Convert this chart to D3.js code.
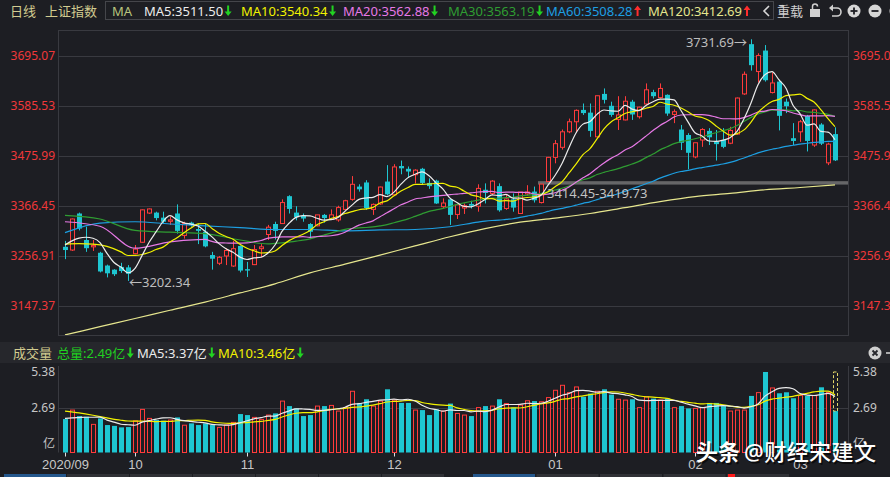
<!DOCTYPE html>
<html>
<head>
<meta charset="utf-8">
<script src="https://cdn.jsdelivr.net/npm/d3@7"></script>
<style>
html, body { margin: 0; padding: 0; background: #1d1e23; }
svg { display: block; font-family: "Noto Sans", "Noto Sans CJK SC", sans-serif; }
</style>
</head>
<body>
<svg id="chart" width="890" height="477"></svg>
<script>
// daily candles, 2020-09-17 .. 2021-03-08 (last one intraday)
var opens = [3277,3270,3350,3292,3277,3264,3236,3227,3233,3232,
  3262,3287,3351,3352,3341,3333,3350,3302,3330,3316,
  3310,3259,3241,3257,3235,3279,3228,3238,3273,3304,
  3327,3328,3388,3352,3345,3327,3323,3347,3337,3336,
  3359,3381,3409,3418,3359,3371,3420,3391,3454,3448,
  3435,3448,3417,3422,3365,3381,3348,3362,3371,3366,
  3402,3394,3410,3361,3381,3350,3393,3398,3374,3420,
  3473,3495,3529,3551,3577,3571,3518,3612,3586,3556,
  3555,3595,3562,3590,3616,3604,3610,3567,3534,3522,
  3474,3511,3531,3508,3511,3504,3524,3612,3721,3661,
  3707,3615,3639,3595,3515,3529,3564,3500,3545,3461,
  3524];
var highs = [3290,3339,3352,3321,3292,3266,3238,3228,3242,3237,
  3281,3359,3361,3354,3354,3343,3370,3332,3332,3328,
  3328,3266,3257,3274,3290,3280,3244,3281,3283,3325,
  3332,3381,3390,3366,3350,3329,3347,3349,3359,3367,
  3380,3432,3414,3423,3372,3409,3456,3458,3466,3453,
  3447,3450,3427,3424,3383,3383,3372,3372,3378,3414,
  3416,3423,3416,3391,3394,3396,3412,3409,3414.45,3474,
  3511,3534,3558,3578,3591,3591,3608,3624,3595,3607,
  3607,3599,3584,3635,3621,3635,3611,3578,3544,3526,
  3505,3537,3537,3533,3537,3540,3604,3661,3731.69,3701,
  3719,3659,3643,3602,3548,3555,3566,3578,3548,3505,
  3539];
var lows = [3250,3268,3313,3266,3268,3221,3210,3213,3220,3202.34,
  3261,3286,3349,3335,3327,3325,3306,3295,3321,3283,
  3276,3227,3237,3237,3233,3221,3211,3237,3254,3292,
  3293,3327,3350,3335,3332,3294,3322,3330,3336,3332,
  3358,3378,3398,3358,3347,3369,3390,3390,3436,3428,
  3416,3414,3404,3371,3361,3325,3338,3349,3361,3354,
  3372,3390,3354,3358,3354,3349,3389,3374,3372,3419.73,
  3460,3490,3526,3527,3566,3518,3517,3591,3562,3533,
  3554,3555,3558,3588,3602,3602,3564,3548,3489,3447,
  3471,3496,3500,3466,3493,3502,3522,3610,3663,3637,
  3639,3613,3532,3570,3500,3507,3486,3496,3500,3456,
  3465];
var closes = [3270,3338,3317,3274,3280,3223,3219,3217,3224,3218,
  3272,3358,3360,3340,3332,3336,3312,3328,3325,3312,
  3278,3251,3254,3269,3273,3225,3225,3271,3277,3320,
  3312,3374,3360,3342,3339,3310,3347,3340,3347,3363,
  3378,3414,3403,3362,3370,3408,3392,3452,3449,3442,
  3445,3417,3410,3372,3373,3347,3369,3367,3367,3405,
  3395,3421,3357,3382,3363,3397,3397,3379,3414.45,3473,
  3503,3529,3551,3576,3570,3531,3608,3599,3566,3566,
  3596,3567,3583,3621,3607,3624,3569,3573,3505,3483,
  3505,3534,3517,3502,3496,3532,3603,3655,3675,3696,
  3642,3636,3564,3585,3509,3551,3509,3577,3503,3502,
  3466.5];
// volume, 亿
var volumes = [2.01,2.55,2.19,2.15,1.69,2.05,1.65,1.60,1.51,1.53,
  1.90,2.59,2.05,1.95,1.91,1.95,2.11,1.64,1.75,1.65,
  1.75,1.65,1.51,1.65,1.81,2.31,2.25,2.11,1.99,2.25,
  2.35,3.09,2.79,2.65,2.19,2.25,2.79,2.79,2.83,2.49,
  2.70,3.68,2.98,3.20,2.79,3.09,3.80,3.15,2.98,2.98,
  2.55,2.55,2.25,2.59,2.49,2.94,2.35,2.25,2.19,2.70,
  2.79,2.79,3.20,2.94,2.70,2.85,3.11,3.09,3.05,3.30,
  3.74,4.04,3.60,3.94,3.35,3.54,3.68,3.80,3.48,3.20,
  3.15,3.20,2.70,3.35,3.24,3.15,3.24,2.70,2.79,2.65,
  2.65,2.70,2.98,2.98,2.79,2.49,2.55,2.55,3.40,3.60,
  4.84,3.88,3.56,3.62,3.26,3.43,3.40,3.42,3.92,3.62,
  2.49];
var volProjected = 4.84;

// moving-average values before a full window exists
var ma5LeadIdx = [0,1,2,3],   ma5Lead = [3281,3290,3296,3298];
var ma10LeadIdx = [0,2,4,6,8], ma10Lead = [3283,3284,3283,3278,3266];
var ma20LeadIdx = [0,5,10,15], ma20Lead = [3332,3322,3274,3288];
var ma30LeadIdx = [0,5,10,15,20,25], ma30Lead = [3346,3338,3313,3309,3306,3292];
var ma60LeadIdx = [0,5,10,15,20,25,30,35,40,45,50,55];
var ma60Lead = [3308,3329,3332,3327,3323,3319,3315,3315,3312,3314,3315,3321];
var ma120Idx = [0,5,10,15,20,25,30,35,40,45,50,55,60,65,70,75,80,85,90,95,100,105,110];
var ma120 = [3084,3102,3120,3138,3156,3176,3196,3220,3239,3259,3279,3299,3317,3331,3340,3350,3363,3376,3387,3394,3402,3407,3412.69];
var volMa5LeadIdx = [0,1,2,3], volMa5Lead = [2.05,2.08,2.10,2.12];
var volMa10LeadIdx = [0,2,4,6,8], volMa10Lead = [2.49,2.38,2.24,2.08,1.94];

var maNames = ['MA5','MA10','MA20','MA30','MA60','MA120'];
var maLabelVals = [3511.50,3540.34,3562.88,3563.19,3508.28,3412.69];
var maTrend = [-1,-1,-1,-1,1,1];
var volLabelNames = ['总量','MA5','MA10'];
var volLabelVals = [2.49,3.37,3.46];

var priceTicks = [3147.37,3256.91,3366.45,3475.99,3585.53,3695.07];
var volTicks = [0,2.69,5.38];
var monthIdx = [0,10,26,47,70,90,105];
var monthLabels = ['2020/09','10','11','12','01','02','03'];
var gapLow = 3414.45, gapHigh = 3419.73, gapStart = 68;

var upColor = '#ff3b3b', downColor = '#1ec6d1', bg = '#1d1e23', grid = '#393a40';
var maColors = ['#ececec','#f2f200','#e779e6','#2f9d32','#1d9fe2','#e6e68e'];

var svg = d3.select('#chart');
var plot = {l: 59, r: 848, t: 31, b: 335};
var vp = {t: 366, b: 452.5};

var x = d3.scaleLinear().domain([0, closes.length - 1]).range([65, 835]);
var y = d3.scaleLinear().domain([priceTicks[0], priceTicks[5]]).range([306, 56]);
var yv = d3.scaleLinear().domain([0, volTicks[2]]).range([vp.b, 363]);

svg.append('rect').attr('width', 890).attr('height', 477).attr('fill', bg);

var defs = svg.append('defs');
defs.append('clipPath').attr('id', 'clipMain').append('rect')
  .attr('x', plot.l).attr('y', plot.t).attr('width', plot.r - plot.l).attr('height', plot.b - plot.t);

// frames
svg.append('rect').attr('x', plot.l - 0.5).attr('y', plot.t - 0.5)
  .attr('width', plot.r - plot.l + 1).attr('height', plot.b - plot.t + 1)
  .attr('fill', 'none').attr('stroke', grid);
svg.append('rect').attr('x', 0).attr('y', 342).attr('width', 890).attr('height', 21).attr('fill', '#26272c');
svg.append('line').attr('x1', plot.l - 0.5).attr('x2', plot.l - 0.5).attr('y1', vp.t).attr('y2', vp.b).attr('stroke', grid);
svg.append('line').attr('x1', plot.r + 0.5).attr('x2', plot.r + 0.5).attr('y1', vp.t).attr('y2', vp.b).attr('stroke', grid);

function styleAxis(g, color, size) {
  g.select('.domain').remove();
  g.selectAll('line').attr('stroke', grid);
  g.selectAll('text').attr('fill', color).style('font-size', size + 'px')
    .style('font-family', '"Noto Sans", "Noto Sans CJK SC", sans-serif');
}

// price axes + grid
svg.append('g').attr('transform', 'translate(' + plot.l + ',0)')
  .call(d3.axisLeft(y).tickValues(priceTicks).tickFormat(d3.format('.2f'))
    .tickSize(-(plot.r - plot.l)).tickPadding(4))
  .call(function(g){ styleAxis(g, '#f0383a', 12); });
svg.append('g').attr('transform', 'translate(' + plot.r + ',0)')
  .call(d3.axisRight(y).tickValues(priceTicks).tickFormat(d3.format('.2f')).tickSize(0).tickPadding(5))
  .call(function(g){ styleAxis(g, '#f0383a', 12); });

// volume axes
function volFmt(d) { return d === 0 ? '亿' : d3.format('.2f')(d); }
function volDy(d) { return d === 0 ? '-0.45em' : (d === volTicks[2] ? '1.05em' : '0.32em'); }
var vl = svg.append('g').attr('transform', 'translate(' + plot.l + ',0)')
  .call(d3.axisLeft(yv).tickValues(volTicks).tickFormat(volFmt).tickSize(0).tickPadding(4))
  .call(function(g){ styleAxis(g, '#c6c6c6', 12); });
vl.selectAll('text').attr('dy', volDy);
var vr = svg.append('g').attr('transform', 'translate(' + plot.r + ',0)')
  .call(d3.axisRight(yv).tickValues(volTicks).tickFormat(volFmt).tickSize(0).tickPadding(5))
  .call(function(g){ styleAxis(g, '#c6c6c6', 12); });
vr.selectAll('text').attr('dy', volDy);
svg.append('line').attr('x1', plot.l).attr('x2', plot.r)
  .attr('y1', Math.round(yv(volTicks[1])) + 0.5).attr('y2', Math.round(yv(volTicks[1])) + 0.5)
  .attr('stroke', grid);

// month axis
var xa = svg.append('g').attr('transform', 'translate(0,' + vp.b + ')')
  .call(d3.axisBottom(x).tickValues(monthIdx).tickFormat(function(d, k){ return monthLabels[k]; })
    .tickSize(4).tickPadding(3));
xa.select('.domain').remove();
xa.selectAll('line').attr('stroke', '#e0e0e0');
xa.selectAll('text').attr('fill', '#c8c8c8').style('font-size', '13px');

var idx = d3.range(closes.length);
function isUp(i) { return closes[i] >= opens[i]; }
function px(i) { return Math.round(x(i)); }

// gap band
var main = svg.append('g').attr('clip-path', 'url(#clipMain)');
main.append('rect').attr('x', px(gapStart) - 3).attr('y', y(gapHigh) - 0.5)
  .attr('width', plot.r - px(gapStart) + 3).attr('height', Math.max(3, y(gapLow) - y(gapHigh) + 1))
  .attr('fill', '#666668');

// candles
main.selectAll('line.wick').data(idx).join('line').attr('class', 'wick')
  .attr('x1', function(i){ return px(i) + 0.5; }).attr('x2', function(i){ return px(i) + 0.5; })
  .attr('y1', function(i){ return y(highs[i]); }).attr('y2', function(i){ return y(lows[i]); })
  .attr('stroke', function(i){ return isUp(i) ? upColor : downColor; });
main.selectAll('rect.body').data(idx).join('rect').attr('class', 'body')
  .attr('x', function(i){ return isUp(i) ? px(i) - 1.5 : px(i) - 2; })
  .attr('width', function(i){ return isUp(i) ? 4 : 5; })
  .attr('y', function(i){ return y(Math.max(opens[i], closes[i])); })
  .attr('height', function(i){ return Math.max(1, Math.abs(y(opens[i]) - y(closes[i]))); })
  .attr('fill', function(i){ return isUp(i) ? bg : downColor; })
  .attr('stroke', function(i){ return isUp(i) ? upColor : 'none'; });

function movingAvg(vals, n, leadIdx, lead) {
  var pts = leadIdx.map(function(d, k){ return [d, lead[k]]; });
  for (var i = n - 1; i < vals.length; i++) pts.push([i, d3.mean(vals.slice(i - n + 1, i + 1))]);
  return pts;
}
var priceLine = d3.line().x(function(d){ return x(d[0]); }).y(function(d){ return y(d[1]); }).curve(d3.curveMonotoneX);
var maSeries = [
  movingAvg(closes, 5, ma5LeadIdx, ma5Lead),
  movingAvg(closes, 10, ma10LeadIdx, ma10Lead),
  movingAvg(closes, 20, ma20LeadIdx, ma20Lead),
  movingAvg(closes, 30, ma30LeadIdx, ma30Lead),
  movingAvg(closes, 60, ma60LeadIdx, ma60Lead),
  ma120Idx.map(function(d, k){ return [d, ma120[k]]; })
];
for (var m = maSeries.length - 1; m >= 0; m--) {
  main.append('path').attr('d', priceLine(maSeries[m])).attr('fill', 'none')
    .attr('stroke', maColors[m]).attr('stroke-width', 1.2);
}

// annotations
var iLow = d3.minIndex(lows), iHigh = d3.maxIndex(highs);
svg.append('text').attr('x', x(iLow) + 1).attr('y', y(lows[iLow]) + 2).attr('dy', '0.35em')
  .attr('fill', '#bdbdbd').style('font-size', '13px').text('←' + lows[iLow].toFixed(2));
svg.append('text').attr('x', x(iHigh) - 4).attr('y', y(highs[iHigh]) + 3).attr('dy', '0.35em')
  .attr('text-anchor', 'end').attr('fill', '#bdbdbd').style('font-size', '13px').text(highs[iHigh].toFixed(2) + '→');
svg.append('text').attr('x', x(gapStart) + 6).attr('y', y(gapLow) + 9).attr('dy', '0.35em')
  .attr('fill', '#c2c2c2').style('font-size', '13px').text(gapLow.toFixed(2) + '-' + gapHigh.toFixed(2));

// volume bars
var vg = svg.append('g');
vg.selectAll('rect.vol').data(idx).join('rect').attr('class', 'vol')
  .attr('x', function(i){ return isUp(i) ? px(i) - 1.5 : px(i) - 2; })
  .attr('width', function(i){ return isUp(i) ? 4 : 5; })
  .attr('y', function(i){ return yv(volumes[i]); })
  .attr('height', function(i){ return vp.b - yv(volumes[i]); })
  .attr('fill', function(i){ return isUp(i) ? bg : downColor; })
  .attr('stroke', function(i){ return isUp(i) ? upColor : 'none'; });
var last = volumes.length - 1;
vg.append('rect').attr('x', px(last) - 1.5).attr('width', 4)
  .attr('y', yv(volProjected)).attr('height', yv(volumes[last]) - yv(volProjected))
  .attr('fill', 'none').attr('stroke', '#e4d86a').attr('stroke-dasharray', '3,2');
var volLine = d3.line().x(function(d){ return x(d[0]); }).y(function(d){ return yv(d[1]); }).curve(d3.curveMonotoneX);
vg.append('path').attr('d', volLine(movingAvg(volumes, 10, volMa10LeadIdx, volMa10Lead)))
  .attr('fill', 'none').attr('stroke', '#f2f200').attr('stroke-width', 1.2);
vg.append('path').attr('d', volLine(movingAvg(volumes, 5, volMa5LeadIdx, volMa5Lead)))
  .attr('fill', 'none').attr('stroke', '#ececec').attr('stroke-width', 1.2);

// arrows
function arrow(g, cx, cyTop, dir) {
  var col = dir < 0 ? '#22d322' : '#ff2d2d';
  var p = dir < 0
    ? 'M' + (cx - 1) + ',' + cyTop + 'h2v6h2.5l-3.5,4.5l-3.5,-4.5h2.5z'
    : 'M' + (cx - 1) + ',' + (cyTop + 10.5) + 'h2v-6h2.5l-3.5,-4.5l-3.5,4.5h2.5z';
  g.append('path').attr('d', p).attr('fill', col);
}
function labelRow(items, baseY, arrowTop) {
  items.forEach(function(it){
    var t = svg.append('text').attr('x', it.x).attr('y', baseY).attr('fill', it.color)
      .style('font-size', '13px').text(it.text);
    if (it.dir) arrow(svg, it.x + t.node().getComputedTextLength() + 5, arrowTop, it.dir);
  });
}

// header
svg.append('rect').attr('x', 105.5).attr('y', 1.5).attr('width', 668).attr('height', 18)
  .attr('fill', 'none').attr('stroke', '#45464b');
var maX = [144, 241, 343, 448, 546, 648];
labelRow([{x: 10, text: '日线', color: '#d2cc90'}, {x: 45, text: '上证指数', color: '#d2cc90'},
  {x: 112, text: 'MA', color: '#b9c47e'}].concat(maNames.map(function(n, k){
    return {x: maX[k], text: n + ':' + maLabelVals[k].toFixed(2), color: maColors[k], dir: maTrend[k]};
  })), 15.5, 5.5);
svg.append('path').attr('d', 'M769,6l-5,5l5,5').attr('fill', 'none').attr('stroke', '#d8d8d8').attr('stroke-width', 1.6);
svg.append('text').attr('x', 777).attr('y', 15.5).attr('fill', '#d0d0d0').style('font-size', '13px').text('重载');
svg.append('rect').attr('x', 810).attr('y', 9).attr('width', 10).attr('height', 8).attr('fill', '#d0d0d0');
svg.append('path').attr('d', 'M812.5,9v-2.5a2.5,2.5 0 0 1 5,0').attr('fill', 'none').attr('stroke', '#d0d0d0').attr('stroke-width', 1.5);
svg.append('path').attr('d', 'M832,8h5a4,4 0 0 1 0,8h-5').attr('fill', 'none').attr('stroke', '#d0d0d0').attr('stroke-width', 1.6);
svg.append('path').attr('d', 'M829,8l4,-3.5v7z').attr('fill', '#d0d0d0');
[854, 875, 896].forEach(function(cx, k){
  svg.append('circle').attr('cx', cx).attr('cy', 11).attr('r', 6.5).attr('fill', '#d6d6d6');
  svg.append('line').attr('x1', cx - 3.5).attr('x2', cx + 3.5).attr('y1', 11).attr('y2', 11).attr('stroke', bg).attr('stroke-width', 1.8);
  if (k === 0) svg.append('line').attr('x1', cx).attr('x2', cx).attr('y1', 7.5).attr('y2', 14.5).attr('stroke', bg).attr('stroke-width', 1.8);
});

// volume header
var vColors = ['#21cf21', '#ececec', '#f2f200'];
var vX = [57, 137, 218];
labelRow([{x: 13, text: '成交量', color: '#d2cc90'}].concat(volLabelNames.map(function(n, k){
  return {x: vX[k], text: n + ':' + volLabelVals[k].toFixed(2) + '亿', color: vColors[k], dir: -1};
})), 357.5, 347.5);
svg.append('circle').attr('cx', 875).attr('cy', 353).attr('r', 6.5).attr('fill', '#cfcfcf');
svg.append('path').attr('d', 'M872.5,350.5l5,5M877.5,350.5l-5,5').attr('stroke', '#26272c').attr('stroke-width', 1.8);
svg.append('line').attr('x1', 886).attr('x2', 890).attr('y1', 353).attr('y2', 353).attr('stroke', '#cfcfcf').attr('stroke-width', 1.6);

// footer tabs
var tabs = svg.append('g');
d3.range(7).forEach(function(k){
  tabs.append('rect').attr('x', 4 + k * 63).attr('y', 474).attr('width', 62).attr('height', 3)
    .attr('fill', k === 0 ? '#24578c' : '#303136');
});
d3.range(5).forEach(function(k){
  tabs.append('rect').attr('x', 473 + k * 63.5).attr('y', 474).attr('width', 62).attr('height', 3)
    .attr('fill', k === 0 ? '#24578c' : '#303136');
});
tabs.append('rect').attr('x', 728).attr('y', 474).attr('width', 7).attr('height', 3).attr('fill', '#ff1a1a');

// watermark
var wm = svg.append('g').style('font-size', '22px');
[[1.5, 1.5, '#000', 0.6], [0, 0, '#ffffff', 1]].forEach(function(s){
  wm.append('text').attr('x', 696 + s[0]).attr('y', 460 + s[1]).attr('fill', s[2]).attr('opacity', s[3])
    .style('font-weight', 700).text('头条');
  wm.append('text').attr('x', 744 + s[0]).attr('y', 460 + s[1]).attr('fill', s[2]).attr('opacity', s[3])
    .style('font-weight', 500).attr('textLength', 132).text('@财经宋建文');
});
</script>
</body>
</html>
